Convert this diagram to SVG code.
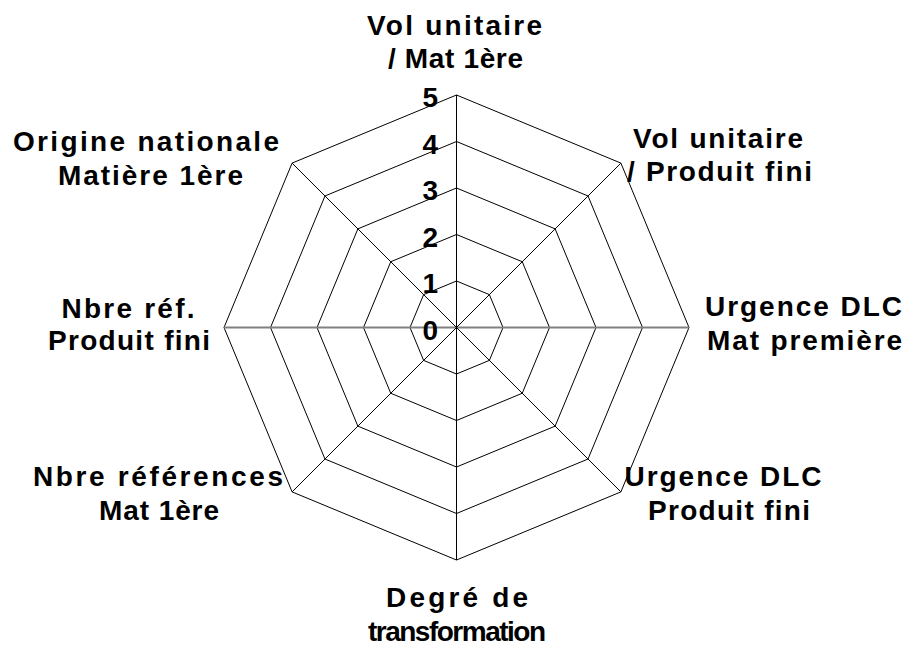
<svg xmlns="http://www.w3.org/2000/svg" width="916" height="646" viewBox="0 0 916 646">
<style>
.grid{fill:none;stroke:#000;stroke-width:1}
.spoke{stroke:#000;stroke-width:1}
.haxis{stroke:#808080;stroke-width:2}
.lbl{font-family:"Liberation Sans",Arial,sans-serif;font-weight:bold;font-size:28px;fill:#000;text-anchor:middle}
.num{font-family:"Liberation Sans",Arial,sans-serif;font-weight:bold;font-size:28px;fill:#000;text-anchor:end}
</style>
<rect width="916" height="646" fill="#fff"/>
<g id="grid">
<polygon class="grid" points="456.5,281 489.38,294.62 503,327.5 489.38,360.38 456.5,374 423.62,360.38 410,327.5 423.62,294.62"/>
<polygon class="grid" points="456.5,234.5 522.26,261.74 549.5,327.5 522.26,393.26 456.5,420.5 390.74,393.26 363.5,327.5 390.74,261.74"/>
<polygon class="grid" points="456.5,188 555.14,228.86 596,327.5 555.14,426.14 456.5,467 357.86,426.14 317,327.5 357.86,228.86"/>
<polygon class="grid" points="456.5,141.5 588.02,195.98 642.5,327.5 588.02,459.02 456.5,513.5 324.98,459.02 270.5,327.5 324.98,195.98"/>
<polygon class="grid" points="456.5,95 620.9,163.1 689,327.5 620.9,491.9 456.5,560 292.1,491.9 224,327.5 292.1,163.1"/>
</g>
<g id="connectors">
<line class="haxis" x1="224" y1="327.5" x2="689" y2="327.5"/>
<line class="spoke" x1="456.5" y1="327.5" x2="456.5" y2="95"/>
<line class="spoke" x1="456.5" y1="327.5" x2="620.9" y2="163.1"/>
<line class="spoke" x1="456.5" y1="327.5" x2="620.9" y2="491.9"/>
<line class="spoke" x1="456.5" y1="327.5" x2="456.5" y2="560"/>
<line class="spoke" x1="456.5" y1="327.5" x2="292.1" y2="491.9"/>
<line class="spoke" x1="456.5" y1="327.5" x2="292.1" y2="163.1"/>
</g>
<g id="scale">
<text class="num" x="438" y="339.5">0</text>
<text class="num" x="438" y="293">1</text>
<text class="num" x="438" y="246.5">2</text>
<text class="num" x="438" y="200">3</text>
<text class="num" x="438" y="153.5">4</text>
<text class="num" x="438" y="107">5</text>
</g>
<g id="axis-vol-mat">
<text class="lbl" x="454.5" y="35" textLength="175" lengthAdjust="spacing">Vol unitaire</text>
<text class="lbl" x="455.5" y="68" textLength="135" lengthAdjust="spacing">/ Mat 1ère</text>
</g>
<g id="axis-vol-produit">
<text class="lbl" x="718" y="148" textLength="170" lengthAdjust="spacing">Vol unitaire</text>
<text class="lbl" x="719.5" y="181" textLength="185" lengthAdjust="spacing">/ Produit fini</text>
</g>
<g id="axis-urgence-mat">
<text class="lbl" x="803.5" y="316" textLength="197" lengthAdjust="spacing">Urgence DLC</text>
<text class="lbl" x="804.5" y="350" textLength="195" lengthAdjust="spacing">Mat première</text>
</g>
<g id="axis-urgence-produit">
<text class="lbl" x="723" y="486" textLength="197" lengthAdjust="spacing">Urgence DLC</text>
<text class="lbl" x="729" y="520" textLength="162" lengthAdjust="spacing">Produit fini</text>
</g>
<g id="axis-degre">
<text class="lbl" x="457" y="607" textLength="142" lengthAdjust="spacing">Degré de</text>
<text class="lbl" x="457" y="641" textLength="178" lengthAdjust="spacing">transformation</text>
</g>
<g id="axis-nbre-mat">
<text class="lbl" x="158" y="486" textLength="250" lengthAdjust="spacing">Nbre références</text>
<text class="lbl" x="159" y="520" textLength="120" lengthAdjust="spacing">Mat 1ère</text>
</g>
<g id="axis-nbre-produit">
<text class="lbl" x="128" y="318" textLength="133" lengthAdjust="spacing">Nbre réf.</text>
<text class="lbl" x="129" y="350" textLength="162" lengthAdjust="spacing">Produit fini</text>
</g>
<g id="axis-origine">
<text class="lbl" x="146" y="151" textLength="266" lengthAdjust="spacing">Origine nationale</text>
<text class="lbl" x="150.5" y="185" textLength="185" lengthAdjust="spacing">Matière 1ère</text>
</g>
</svg>
